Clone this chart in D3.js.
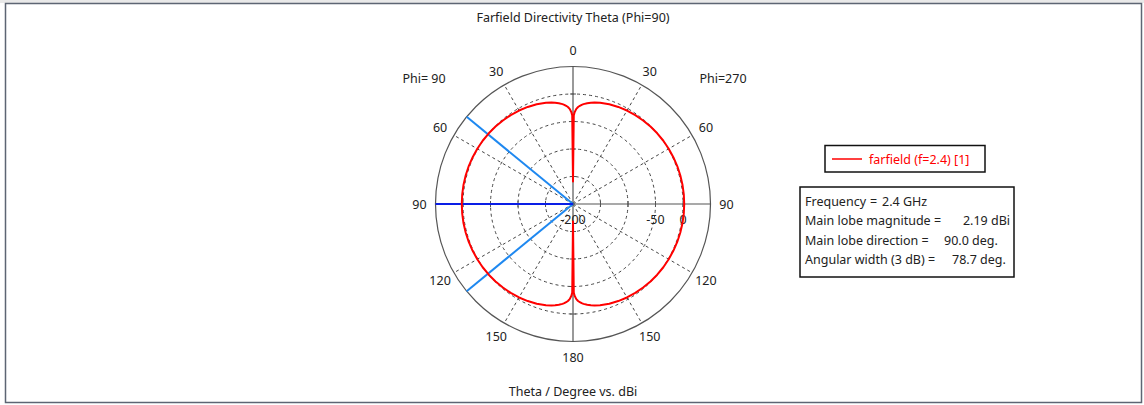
<!DOCTYPE html>
<html>
<head>
<meta charset="utf-8">
<script src="https://cdn.jsdelivr.net/npm/d3@7"></script>
<style>
  body { margin: 0; background: #fff; }
  svg text { font-family: "Noto Sans", "DejaVu Sans", sans-serif; fill: #222; }
</style>
</head>
<body>
<div id="container"></div>
<script>
var width = 1144, height = 405;
var cx = 573, cy = 204, R = 137.5;

// theta (deg) and directivity (dBi) for the two half-cuts
var thetaDeg = [0, 0.5, 1, 2, 3, 4, 5, 6, 8, 10, 12, 15, 20, 25, 30, 35, 40, 45, 50, 55, 60, 65, 70, 75, 80, 85, 90,
                95, 100, 105, 110, 115, 120, 125, 130, 135, 140, 145, 150, 155, 160, 165, 168, 170, 172, 174, 175, 176, 177, 178, 179, 179.5, 180];
var dbPhi90  = [-159, -39, -33, -27, -23.4, -21, -19, -17.4, -15, -13, -11.5, -9.6, -7.1, -5.3, -3.8, -2.6, -1.7, -0.8, -0.1, 0.5, 0.9, 1.3, 1.7, 1.9, 2.1, 2.2, 2.19,
                2.2, 2.1, 1.9, 1.7, 1.3, 0.9, 0.5, -0.1, -0.8, -1.7, -2.6, -3.8, -5.3, -7.1, -9.6, -11.5, -13, -15, -17.4, -19, -21, -23.4, -27, -33, -39, -168];
var dbPhi270 = [-159, -39, -33, -27, -23.4, -21, -19, -17.4, -15, -13, -11.5, -9.6, -7.1, -5.3, -3.8, -2.6, -1.7, -0.8, -0.1, 0.5, 0.9, 1.3, 1.7, 1.9, 2.1, 2.2, 2.19,
                2.2, 2.1, 1.9, 1.7, 1.3, 0.9, 0.5, -0.1, -0.8, -1.7, -2.6, -3.8, -5.3, -7.1, -9.6, -11.5, -13, -15, -17.4, -19, -21, -23.4, -27, -33, -39, -168];

var rTicks = [-150, -100, -50, 0];
var rLabels = [-200, -50, 0];
var angleLabels = [0, 30, 60, 90, 120, 150, 180];
var spokes = [30, 60, 120, 150];
var mainLobeDir = 90, beam3dB = [50.65, 129.35];

var legendText = "farfield (f=2.4) [1]";
var infoLabels = ["Frequency", "Main lobe magnitude =", "Main lobe direction =", "Angular width (3 dB) ="];
var infoValues = ["2.4 GHz", "2.19 dBi", "90.0 deg.", "78.7 deg."];

const SVG = d3.select("#container")
              .append("svg")
              .attr("width", width)
              .attr("height", height)

var r = d3.scaleLinear().domain([-200, 50]).range([0, R]).clamp(true);

// point on the plot; side -1 = Phi=90 (left), +1 = Phi=270 (right)
function pt(theta, db, side) {
  var a = theta * Math.PI / 180;
  return [cx + side * r(db) * Math.sin(a), cy - r(db) * Math.cos(a)];
}

SVG.append("rect").attr("x", 0).attr("y", 0).attr("width", width).attr("height", 3).attr("fill", "#e9e9e9")
SVG.append("rect")
   .attr("x", 5.5).attr("y", 3.5).attr("width", 1136).attr("height", 399)
   .attr("fill", "#fff").attr("stroke", "#5d6573").attr("stroke-width", 1.5)

SVG.append("text").attr("x", cx).attr("y", 22).attr("text-anchor", "middle")
   .attr("font-size", "12.5px").text("Farfield Directivity Theta (Phi=90)")
SVG.append("text").attr("x", cx).attr("y", 395.5).attr("text-anchor", "middle")
   .attr("font-size", "12.5px").text("Theta / Degree vs. dBi")

// grid circles
SVG.selectAll("circle.grid")
   .data(rTicks)
   .enter()
   .append("circle")
   .attr("cx", cx).attr("cy", cy).attr("r", d => r(d))
   .attr("fill", "none").attr("stroke", "#444").attr("stroke-width", 1).attr("stroke-dasharray", "3,3")

// spokes
SVG.selectAll("line.spoke")
   .data(spokes.flatMap(a => [[a, -1], [a, 1]]))
   .enter()
   .append("line")
   .attr("x1", cx).attr("y1", cy)
   .attr("x2", d => pt(d[0], 50, d[1])[0])
   .attr("y2", d => pt(d[0], 50, d[1])[1])
   .attr("stroke", "#444").attr("stroke-width", 1).attr("stroke-dasharray", "3,3")

// outer circle + axes
SVG.append("circle").attr("cx", cx).attr("cy", cy).attr("r", R)
   .attr("fill", "none").attr("stroke", "#555").attr("stroke-width", 1.2)
SVG.append("line").attr("x1", cx - R).attr("x2", cx + R).attr("y1", cy).attr("y2", cy)
   .attr("stroke", "#555").attr("stroke-width", 1.2)
SVG.append("line").attr("x1", cx).attr("x2", cx).attr("y1", cy - R).attr("y2", cy + R)
   .attr("stroke", "#555").attr("stroke-width", 1.2)

// small ticks on the axes
var tickDirs = [[1, 0], [-1, 0], [0, 1], [0, -1]];
SVG.selectAll("line.tick")
   .data(rTicks.flatMap(t => tickDirs.map(dir => [t, dir])))
   .enter()
   .append("line")
   .attr("x1", d => cx + d[1][0] * r(d[0]) - d[1][1] * 3)
   .attr("x2", d => cx + d[1][0] * r(d[0]) + d[1][1] * 3)
   .attr("y1", d => cy + d[1][1] * r(d[0]) - d[1][0] * 3)
   .attr("y2", d => cy + d[1][1] * r(d[0]) + d[1][0] * 3)
   .attr("stroke", "#555").attr("stroke-width", 1)

// angle labels
SVG.selectAll("text.ang")
   .data(angleLabels.flatMap(a => (a == 0 || a == 180) ? [[a, 1]] : [[a, -1], [a, 1]]))
   .enter()
   .append("text")
   .attr("x", d => cx + d[1] * (R + 16) * Math.sin(d[0] * Math.PI / 180))
   .attr("y", d => cy - (R + 16) * Math.cos(d[0] * Math.PI / 180) + 4.5)
   .attr("text-anchor", "middle").attr("font-size", "12.5px")
   .text(d => d[0])

SVG.append("text").attr("x", 424).attr("y", 83).attr("text-anchor", "middle").attr("font-size", "12.5px").text("Phi= 90")
SVG.append("text").attr("x", 723).attr("y", 83).attr("text-anchor", "middle").attr("font-size", "12.5px").text("Phi=270")

// radial labels
SVG.selectAll("text.rlab")
   .data(rLabels)
   .enter()
   .append("text")
   .attr("x", d => cx + r(d))
   .attr("y", cy + 20)
   .attr("text-anchor", "middle").attr("font-size", "12.5px")
   .text(d => d)

// main lobe + 3 dB lines
beam3dB.forEach(function(a) {
  var p = pt(a, 50, -1);
  SVG.append("line").attr("x1", cx).attr("y1", cy).attr("x2", p[0]).attr("y2", p[1])
     .attr("stroke", "#1e88f0").attr("stroke-width", 2)
});
var pm = pt(mainLobeDir, 50, -1);
SVG.append("line").attr("x1", cx).attr("y1", cy).attr("x2", pm[0]).attr("y2", pm[1])
   .attr("stroke", "#0a1ee6").attr("stroke-width", 2)

// pattern curve
var pts = thetaDeg.map((t, i) => pt(t, dbPhi90[i], -1))
          .concat(thetaDeg.map((t, i) => pt(t, dbPhi270[i], 1)).reverse());
SVG.append("path")
   .attr("d", d3.line()(pts) + "Z")
   .attr("fill", "none").attr("stroke", "#f00").attr("stroke-width", 2).attr("stroke-linejoin", "round")

// legend
SVG.append("rect").attr("x", 825).attr("y", 145.5).attr("width", 160).attr("height", 26.5)
   .attr("fill", "#fff").attr("stroke", "#111").attr("stroke-width", 1.5)
SVG.append("line").attr("x1", 832).attr("x2", 862).attr("y1", 159).attr("y2", 159)
   .attr("stroke", "#f00").attr("stroke-width", 1.5)
SVG.append("text").attr("x", 869).attr("y", 163.5).attr("font-size", "12.5px")
   .style("fill", "#f00").text(legendText)

// info box
SVG.append("rect").attr("x", 800).attr("y", 187).attr("width", 214).attr("height", 90)
   .attr("fill", "#fff").attr("stroke", "#111").attr("stroke-width", 1.5)
var infoY = [206, 225, 244.5, 264];
SVG.selectAll("text.info")
   .data(infoLabels)
   .enter()
   .append("text")
   .attr("x", 805).attr("y", (d, i) => infoY[i]).attr("font-size", "12.5px")
   .text(d => d)
SVG.append("text").attr("x", 870).attr("y", infoY[0]).attr("font-size", "12.5px").text("=")
SVG.append("text").attr("x", 882).attr("y", infoY[0]).attr("font-size", "12.5px").text(infoValues[0])
SVG.append("text").attr("x", 1010).attr("y", infoY[1]).attr("text-anchor", "end").attr("font-size", "12.5px").text(infoValues[1])
SVG.append("text").attr("x", 944).attr("y", infoY[2]).attr("font-size", "12.5px").text(infoValues[2])
SVG.append("text").attr("x", 952).attr("y", infoY[3]).attr("font-size", "12.5px").text(infoValues[3])
</script>
</body>
</html>
